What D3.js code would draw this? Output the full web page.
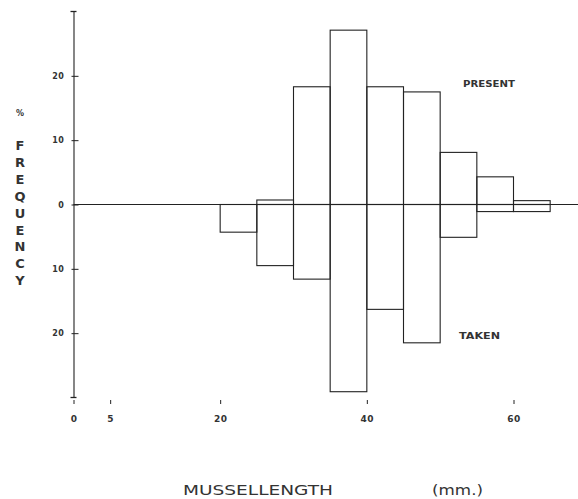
<!DOCTYPE html>
<head>
  <meta charset="utf-8">
  <script src="https://cdn.jsdelivr.net/npm/d3@7"></script>
  <style>
    body { margin: 0; background: #fff; }
    text { font-family: "DejaVu Sans", "Liberation Sans", sans-serif; fill: #333; }
  </style>
</head>

<body>
  <div id="chart"></div>

  <script>
    // mussel length classes (start of each 5 mm class)
    const classStart = [20, 25, 30, 35, 40, 45, 50, 55, 60];
    const classWidth = 5;
    // % frequency of mussels present (above) and taken (below)
    const present = [0, 0.7, 18.3, 27.1, 18.3, 17.5, 8.1, 4.3, 0.6];
    const taken = [4.3, 9.5, 11.6, 29.1, 16.3, 21.5, 5.1, 1.1, 1.1];

    const xTicks = [0, 5, 20, 40, 60];
    const yTicks = [-20, -10, 0, 10, 20];
    const yLetters = 'FREQUENCY'.split('');

    const width = 578;
    const height = 499;

    const svg = d3.select('#chart').append('svg')
      .attr('width', width)
      .attr('height', height);

    const x = d3.scaleLinear().domain([0, 60]).range([73.5, 513.5]);
    const y = d3.scaleLinear().domain([-30, 30]).range([397.5, 11.5]);

    const ink = '#222';

    // zero line
    svg.append('line')
      .attr('x1', x(0)).attr('x2', width)
      .attr('y1', y(0)).attr('y2', y(0))
      .attr('stroke', ink).attr('stroke-width', 1.1);

    // present bars (up)
    svg.append('g').selectAll('rect')
      .data(classStart.map((s, i) => ({ s, v: present[i] })).filter(d => d.v > 0))
      .join('rect')
      .attr('x', d => x(d.s))
      .attr('width', d => x(d.s + classWidth) - x(d.s))
      .attr('y', d => y(d.v))
      .attr('height', d => y(0) - y(d.v))
      .attr('fill', 'none')
      .attr('stroke', ink)
      .attr('stroke-width', 1.1);

    // taken bars (down)
    svg.append('g').selectAll('rect')
      .data(classStart.map((s, i) => ({ s, v: taken[i] })).filter(d => d.v > 0))
      .join('rect')
      .attr('x', d => x(d.s))
      .attr('width', d => x(d.s + classWidth) - x(d.s))
      .attr('y', y(0))
      .attr('height', d => y(-d.v) - y(0))
      .attr('fill', 'none')
      .attr('stroke', ink)
      .attr('stroke-width', 1.1);

    // y axis
    const yAxis = svg.append('g')
      .attr('transform', `translate(${x(0)},0)`)
      .call(d3.axisLeft(y)
        .tickValues(yTicks)
        .tickFormat(d => Math.abs(d))
        .tickSizeInner(-5)
        .tickSizeOuter(0)
        .tickPadding(9));
    yAxis.select('.domain').attr('stroke', ink).attr('stroke-width', 1.1);
    yAxis.selectAll('.tick line').attr('stroke', ink).attr('x1', -2);
    yAxis.selectAll('.tick text')
      .style('font-family', '"DejaVu Sans", sans-serif')
      .style('font-size', '8px').style('font-weight', 'bold')
      .attr('letter-spacing', 0.6).attr('fill', '#444');
    // end caps
    [30, -30].forEach(v => {
      yAxis.append('line')
        .attr('x1', -3).attr('x2', 3)
        .attr('y1', y(v)).attr('y2', y(v))
        .attr('stroke', ink).attr('stroke-width', 1.3);
    });

    // x axis (tick marks only)
    const xAxis = svg.append('g')
      .attr('transform', 'translate(0,399)')
      .call(d3.axisBottom(x)
        .tickValues(xTicks)
        .tickSizeInner(4)
        .tickSizeOuter(0)
        .tickPadding(13));
    xAxis.select('.domain').remove();
    xAxis.selectAll('.tick line').attr('stroke', ink).attr('y1', 1).attr('y2', 5);
    xAxis.selectAll('.tick text')
      .style('font-family', '"DejaVu Sans", sans-serif')
      .style('font-size', '9px').style('font-weight', 'bold')
      .attr('letter-spacing', 0.5).attr('fill', '#444');

    // y title
    svg.append('text')
      .attr('x', 20).attr('y', 116)
      .attr('text-anchor', 'middle')
      .style('font-size', '8px').style('font-weight', 'bold')
      .text('%');
    svg.append('g').selectAll('text')
      .data(yLetters)
      .join('text')
      .attr('x', 20)
      .attr('y', (d, i) => 150 + i * 16.9)
      .attr('text-anchor', 'middle')
      .style('font-size', '13px').style('font-weight', 'bold')
      .text(d => d);

    // series labels
    svg.append('text')
      .attr('x', 463).attr('y', 87)
      .attr('textLength', 52).attr('lengthAdjust', 'spacingAndGlyphs')
      .style('font-size', '9.5px').style('font-weight', 'bold')
      .text('PRESENT');
    svg.append('text')
      .attr('x', 459).attr('y', 339)
      .attr('textLength', 41).attr('lengthAdjust', 'spacingAndGlyphs')
      .style('font-size', '9.5px').style('font-weight', 'bold')
      .text('TAKEN');

    // x title
    svg.append('text')
      .attr('x', 183).attr('y', 495)
      .attr('textLength', 150).attr('lengthAdjust', 'spacingAndGlyphs')
      .style('font-size', '13.5px')
      .text('MUSSELLENGTH');
    svg.append('text')
      .attr('x', 432).attr('y', 495)
      .attr('textLength', 51).attr('lengthAdjust', 'spacingAndGlyphs')
      .style('font-size', '13.5px')
      .text('(mm.)');
  </script>
</body>
